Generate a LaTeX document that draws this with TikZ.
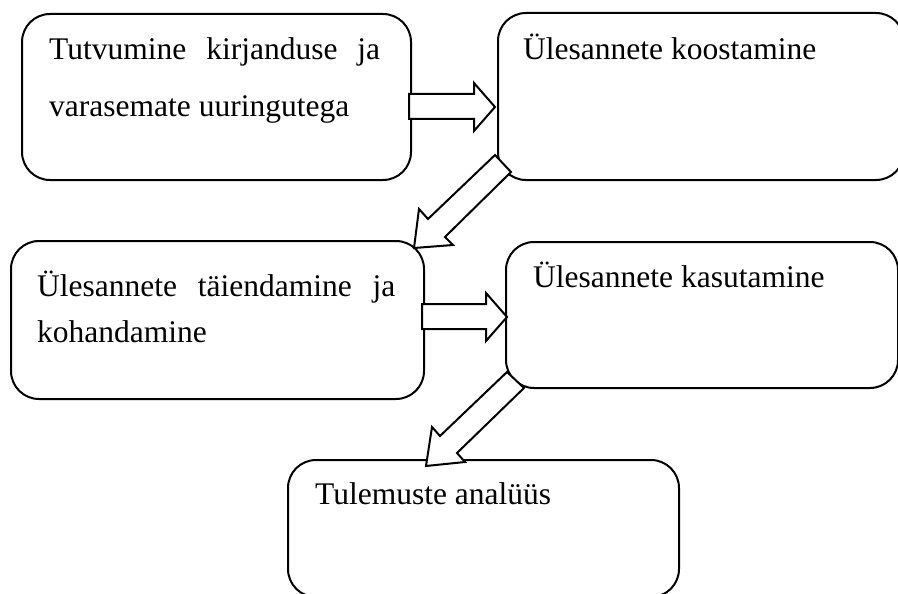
\documentclass[tikz,border=0pt]{standalone}
\usepackage{fontspec}
\setmainfont{Liberation Serif}
\begin{document}
\begin{tikzpicture}[x=1pt,y=-1pt,
  box/.style={draw=black, line width=2pt, rounded corners=28pt, rectangle, anchor=north west, inner sep=0pt},
  lbl/.style={anchor=base west, inner sep=0pt, font=\fontsize{31.5}{37}\selectfont},
  blockarrow/.style={draw=black, fill=white, line width=2pt, line join=miter}]
\useasboundingbox (0,0) rectangle (898,594);
% boxes
\node[box, minimum width=389pt, minimum height=166pt] (b1) at (21,13) {};
\node[box, minimum width=406pt, minimum height=167pt] (b2) at (497,12) {};
\node[box, minimum width=413pt, minimum height=158pt] (b3) at (10,240) {};
\node[box, minimum width=392pt, minimum height=146pt] (b4) at (505,241) {};
\node[box, minimum width=391pt, minimum height=137pt] (b5) at (287,459) {};
% texts
\node[lbl] (t1a) at (49,60) {\makebox[331pt][s]{Tutvumine kirjanduse ja}};
\node[lbl] (t1b) at (49,117) {varasemate uuringutega};
\node[lbl] (t2) at (523,60) {Ülesannete koostamine};
\node[lbl] (t3a) at (37,296) {\makebox[358pt][s]{Ülesannete täiendamine ja}};
\node[lbl] (t3b) at (37,342) {kohandamine};
\node[lbl] (t4) at (533,287) {Ülesannete kasutamine};
\node[lbl] (t5) at (315,504) {Tulemuste analüüs};
% block arrows
\draw[blockarrow] (409,94) -- (474,94) -- (474,83) -- (495,107) -- (474,131) -- (474,119) -- (409,119) -- cycle;
\draw[blockarrow] (422,304) -- (486,304) -- (486,293) -- (507,317) -- (486,341) -- (486,329) -- (422,329) -- cycle;
\draw[blockarrow] (495,155) -- (428,219) -- (419,209) -- (414,248) -- (453,245) -- (445,237) -- (511,172) -- cycle;
\draw[blockarrow] (507,372) -- (440,436) -- (432,427) -- (426,466) -- (465,462) -- (457,453) -- (524,388) -- cycle;
\end{tikzpicture}
\end{document}
